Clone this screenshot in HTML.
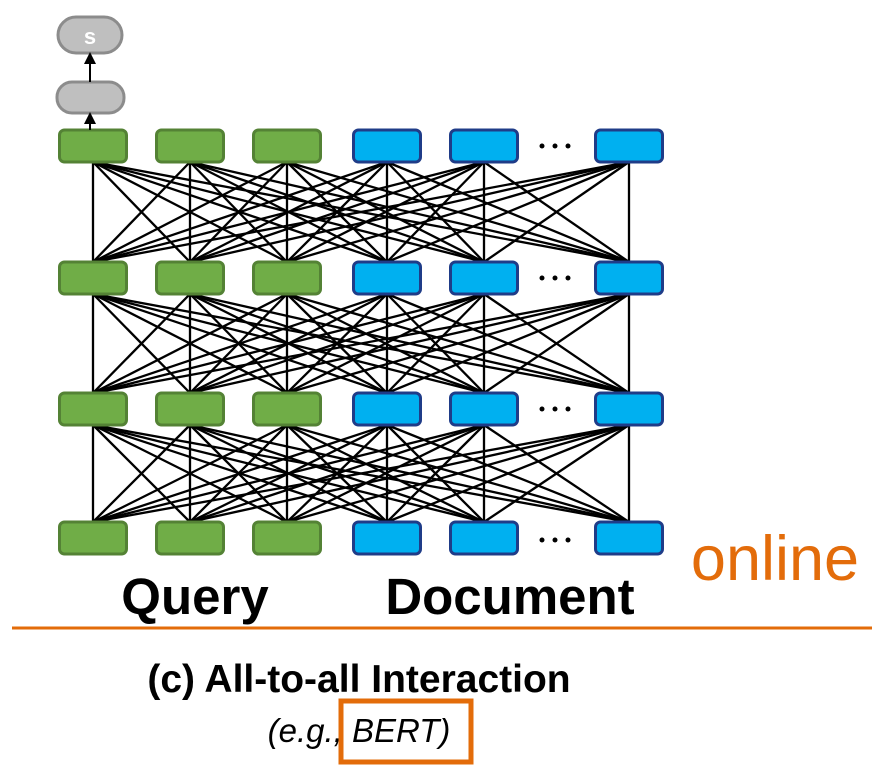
<!DOCTYPE html>
<html><head><meta charset="utf-8"><style>
html,body{margin:0;padding:0;background:#fff;width:889px;height:773px;overflow:hidden}
</style></head><body>
<svg id="s" width="889" height="773" viewBox="0 0 889 773" xmlns="http://www.w3.org/2000/svg">
<defs><marker id="a" markerWidth="6" markerHeight="6" refX="3" refY="3" orient="auto"><path d="M0,0 L6,3 L0,6 z" fill="#000"/></marker></defs>
<g id="lines" stroke="#000" stroke-width="2.3"></g>
<g id="nodes"></g>
<rect x="57" y="82" width="67" height="31" rx="15" fill="#bfbfbf" stroke="#8c8c8c" stroke-width="3"/>
<rect x="58" y="17" width="64" height="36" rx="18" fill="#bfbfbf" stroke="#8c8c8c" stroke-width="3"/>
<text x="90" y="44" font-family="Liberation Sans, sans-serif" font-weight="bold" font-size="22" fill="#fff" text-anchor="middle">s</text>
<line x1="90" y1="130" x2="90" y2="118" stroke="#000" stroke-width="2" marker-end="url(#a)"/>
<line x1="90" y1="82" x2="90" y2="58" stroke="#000" stroke-width="2" marker-end="url(#a)"/>
<g fill="#000"><circle cx="542" cy="146" r="2.5"/><circle cx="555" cy="146" r="2.5"/><circle cx="568" cy="146" r="2.5"/>
<circle cx="542" cy="278" r="2.5"/><circle cx="555" cy="278" r="2.5"/><circle cx="568" cy="278" r="2.5"/>
<circle cx="542" cy="409" r="2.5"/><circle cx="555" cy="409" r="2.5"/><circle cx="568" cy="409" r="2.5"/>
<circle cx="542" cy="540" r="2.5"/><circle cx="555" cy="540" r="2.5"/><circle cx="568" cy="540" r="2.5"/></g>
<text x="195" y="614" font-family="Liberation Sans, sans-serif" font-weight="bold" font-size="51" text-anchor="middle">Query</text>
<text x="510" y="614" font-family="Liberation Sans, sans-serif" font-weight="bold" font-size="51" text-anchor="middle">Document</text>
<text x="775" y="580" font-family="Liberation Sans, sans-serif" font-size="63" fill="#e36c0a" text-anchor="middle">online</text>
<line x1="12" y1="628" x2="872" y2="628" stroke="#e36c0a" stroke-width="3"/>
<text x="359" y="692" font-family="Liberation Sans, sans-serif" font-weight="bold" font-size="39" text-anchor="middle">(c) All-to-all Interaction</text>
<text x="359" y="742" font-family="Liberation Sans, sans-serif" font-style="italic" font-size="33" text-anchor="middle">(e.g., BERT)</text>
<rect x="341" y="701" width="130" height="61" fill="none" stroke="#e36c0a" stroke-width="5"/>
</svg>
<script>
var xs=[93,190,287,387,484,629],tops=[130,262,393,522],H=32,W=67;
var L=document.getElementById('lines'),N=document.getElementById('nodes'),ns='http://www.w3.org/2000/svg';
for(var r=0;r<3;r++){for(var i=0;i<6;i++)for(var j=0;j<6;j++){var l=document.createElementNS(ns,'line');
l.setAttribute('x1',xs[i]);l.setAttribute('y1',tops[r+1]);l.setAttribute('x2',xs[j]);l.setAttribute('y2',tops[r]+H);L.appendChild(l);}}
for(var r=0;r<4;r++)for(var i=0;i<6;i++){var b=document.createElementNS(ns,'rect');
b.setAttribute('x',xs[i]-W/2);b.setAttribute('y',tops[r]);b.setAttribute('width',W);b.setAttribute('height',H);b.setAttribute('rx',5);
b.setAttribute('fill',i<3?'#70ad47':'#00b0f0');b.setAttribute('stroke',i<3?'#548235':'#1f3c88');b.setAttribute('stroke-width',3);N.appendChild(b);}
</script>
</body></html>
